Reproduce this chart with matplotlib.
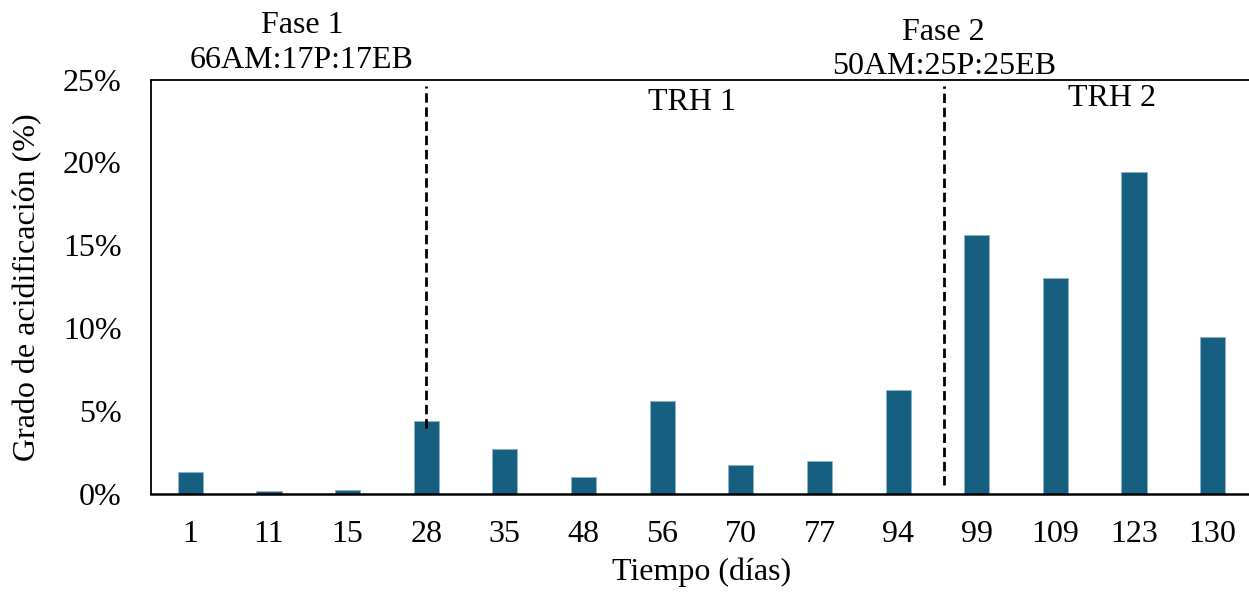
import matplotlib
matplotlib.use("Agg")
import matplotlib.pyplot as plt
from matplotlib.ticker import FuncFormatter

categories = ["1", "11", "15", "28", "35", "48", "56", "70", "77", "94", "99", "109", "123", "130"]
values = [1.33, 0.18, 0.22, 4.4, 2.7, 1.0, 5.6, 1.75, 2.0, 6.25, 15.6, 13.05, 19.4, 9.5]

plt.rcParams['font.family'] = ['Liberation Serif', 'DejaVu Serif']
fs = 23

fig = plt.figure(figsize=(12.49, 5.92), dpi=100)
ax = fig.add_axes([0.1209, 0.1655, 1.0024 - 0.1209, 0.8657 - 0.1655])

x = list(range(len(categories)))
ax.bar(x, values, width=0.32, color='#175f81', edgecolor='#8fb3c6', linewidth=0.6, zorder=2)

ax.set_xlim(-0.5, len(categories) - 0.5)
ax.set_ylim(0, 25)
ax.set_yticks([0, 5, 10, 15, 20, 25])
ax.yaxis.set_major_formatter(FuncFormatter(lambda v, p: f"{int(v)}%"))
ax.set_xticks(x)
ax.set_xticklabels(categories)
ax.tick_params(axis='both', length=0, labelsize=fs)
ax.tick_params(axis='x', pad=19)
ax.tick_params(axis='y', pad=21)

for s in ['left', 'top']:
    ax.spines[s].set_linewidth(1.3)
ax.spines['bottom'].set_linewidth(1.8)
ax.spines['right'].set_visible(False)

ax.set_xlabel("Tiempo (días)", fontsize=fs, labelpad=6)
ax.set_ylabel("Grado de acidificación (%)", fontsize=fs, labelpad=15)

# phase divider lines
ax.plot([3.0, 3.0], [4.0, 24.6], color='black', lw=2.0, ls=(0, (3.4, 1.7)), zorder=3)
ax.plot([9.58, 9.58], [0.55, 24.6], color='black', lw=2.0, ls=(0, (3.4, 1.7)), zorder=3)

tr = ax.get_xaxis_transform()
ax.text(1.42, 1.131, "Fase 1", transform=tr, ha='center', va='center', fontsize=fs)
ax.text(1.42, 1.045, "66AM:17P:17EB", transform=tr, ha='center', va='center', fontsize=fs)
ax.text(9.58, 1.113, "Fase 2", transform=tr, ha='center', va='center', fontsize=fs)
ax.text(9.58, 1.031, "50AM:25P:25EB", transform=tr, ha='center', va='center', fontsize=fs)
ax.text(6.38, 0.945, "TRH 1", transform=tr, ha='center', va='center', fontsize=fs)
ax.text(11.72, 0.955, "TRH 2", transform=tr, ha='center', va='center', fontsize=fs)

fig.savefig("out.png", dpi=100)
